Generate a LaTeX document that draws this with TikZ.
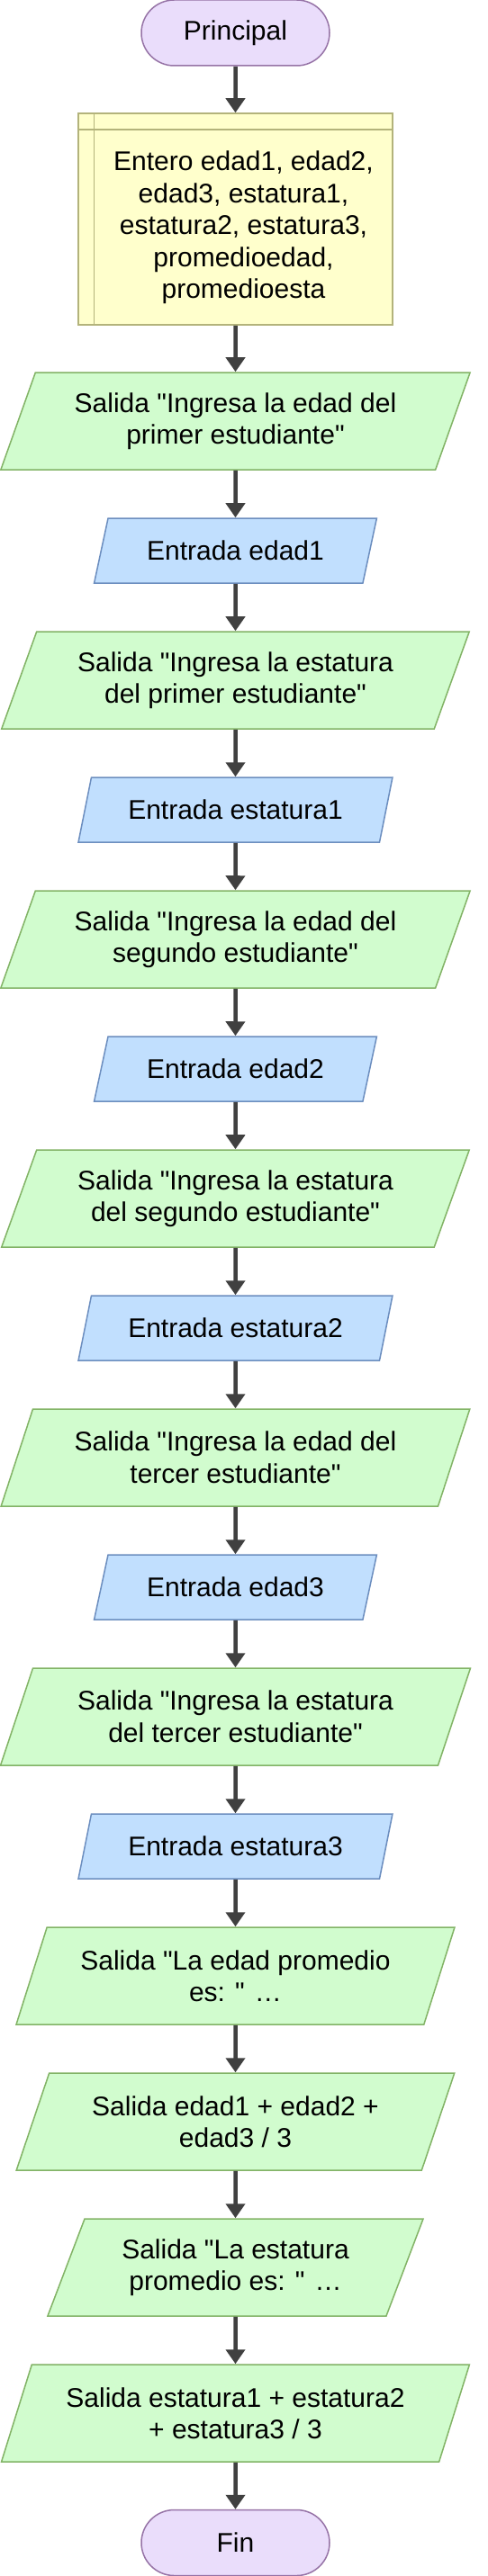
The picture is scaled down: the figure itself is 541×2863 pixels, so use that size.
\documentclass[tikz,border=0pt]{standalone}
\usepackage{fontspec}
\setmainfont{Liberation Sans}
\usetikzlibrary{arrows.meta, shapes.geometric, shapes.misc, calc}

% comilla recta, sin pasar por el mapeo tex-text
\newcommand{\comillas}{\XeTeXglyph\XeTeXcharglyph"22\relax}

\definecolor{terminalFondo}{HTML}{EADDFB}
\definecolor{terminalBorde}{HTML}{9673A6}
\definecolor{declFondo}{HTML}{FFFFCC}
\definecolor{declBorde}{HTML}{B3B37B}
\definecolor{salidaFondo}{HTML}{D1FCCE}
\definecolor{salidaBorde}{HTML}{82B366}
\definecolor{entradaFondo}{HTML}{C1DFFE}
\definecolor{entradaBorde}{HTML}{6C8EBF}
\definecolor{flechaGris}{HTML}{404040}

\tikzset{
    my-base/.style={
        font=\fontsize{30}{35.5}\selectfont, align=center, line width=1.5pt, inner sep=0pt
    },
    my-terminal/.style={
        my-base, rounded rectangle, draw=terminalBorde, fill=terminalFondo,
        minimum width=209pt, minimum height=73pt
    },
    my-decl/.style={
        my-base, rectangle, draw=declBorde, fill=declFondo,
        minimum width=349pt, minimum height=235pt
    },
    my-decl-text/.style={my-base},
    my-decl-line/.style={draw=declBorde, line width=1.5pt},
    my-io/.style={
        my-base, trapezium, trapezium left angle=64, trapezium right angle=116,
        trapezium stretches=true
    },
    my-salida/.style={
        my-io, draw=salidaBorde, fill=salidaFondo, minimum height=108pt, minimum width=#1
    },
    my-salida/.default=522pt,
    my-entrada/.style={
        my-io, draw=entradaBorde, fill=entradaFondo, minimum height=72pt, minimum width=#1
    },
    my-entrada/.default=314pt,
    my-arrow/.style={
        draw=flechaGris, line width=4.5pt, -{Triangle[length=16pt, width=21pt]}
    },
}

\begin{document}
\begin{tikzpicture}[x=1pt, y=-1pt]
        \useasboundingbox (0,0) rectangle (541,2863);

        % INICIO Y DECLARACION
        \node[my-terminal]  (INICIO)  at (261.5,36.5)  {Principal};
        \node[my-decl]      (DECL)    at (261.5,243.5) {};
        \node[my-decl-text] (DECLTXT) at (270.5,253)   {Entero edad1, edad2,\\ edad3, estatura1,\\ estatura2, estatura3,\\ promedioedad,\\ promedioesta};
        \coordinate[]       (DECLV1)  at ($(DECL.north west) + (18,0)$);
        \coordinate[]       (DECLV2)  at ($(DECL.south west) + (18,0)$);
        \coordinate[]       (DECLH1)  at ($(DECL.north west) + (0,19)$);
        \coordinate[]       (DECLH2)  at ($(DECL.north east) + (0,19)$);
        \draw[my-decl-line] (DECLV1) -- (DECLV2);
        \draw[my-decl-line] (DECLH1) -- (DECLH2);

        % PRIMER ESTUDIANTE
        \node[my-salida]         (SAL1) at (261.5,468)  {Salida \comillas Ingresa la edad del\\ primer estudiante\comillas};
        \node[my-entrada]        (ENT1) at (261.5,612)  {Entrada edad1};
        \node[my-salida]         (SAL2) at (261.5,756)  {Salida \comillas Ingresa la estatura\\ del primer estudiante\comillas};
        \node[my-entrada=349pt]  (ENT2) at (261.5,900)  {Entrada estatura1};

        % SEGUNDO ESTUDIANTE
        \node[my-salida]         (SAL3) at (261.5,1044) {Salida \comillas Ingresa la edad del\\ segundo estudiante\comillas};
        \node[my-entrada]        (ENT3) at (261.5,1188) {Entrada edad2};
        \node[my-salida]         (SAL4) at (261.5,1332) {Salida \comillas Ingresa la estatura\\ del segundo estudiante\comillas};
        \node[my-entrada=349pt]  (ENT4) at (261.5,1476) {Entrada estatura2};

        % TERCER ESTUDIANTE
        \node[my-salida]         (SAL5) at (261.5,1620) {Salida \comillas Ingresa la edad del\\ tercer estudiante\comillas};
        \node[my-entrada]        (ENT5) at (261.5,1764) {Entrada edad3};
        \node[my-salida]         (SAL6) at (261.5,1908) {Salida \comillas Ingresa la estatura\\ del tercer estudiante\comillas};
        \node[my-entrada=349pt]  (ENT6) at (261.5,2052) {Entrada estatura3};

        % PROMEDIOS
        \node[my-salida=489pt]   (SAL7)  at (261.5,2196) {Salida \comillas La edad promedio\\ es: \comillas{} …};
        \node[my-salida=489pt]   (SAL8)  at (261.5,2358) {Salida edad1 + edad2 +\\ edad3 / 3};
        \node[my-salida=418pt]   (SAL9)  at (261.5,2520) {Salida \comillas La estatura\\ promedio es: \comillas{} …};
        \node[my-salida]         (SAL10) at (261.5,2682) {Salida estatura1 + estatura2\\ + estatura3 / 3};
        \node[my-terminal]       (FIN)   at (261.5,2826) {Fin};

        % FLECHAS
        \draw[my-arrow] (INICIO) -- (DECL);
        \draw[my-arrow] (DECL)   -- (SAL1);
        \draw[my-arrow] (SAL1)   -- (ENT1);
        \draw[my-arrow] (ENT1)   -- (SAL2);
        \draw[my-arrow] (SAL2)   -- (ENT2);
        \draw[my-arrow] (ENT2)   -- (SAL3);
        \draw[my-arrow] (SAL3)   -- (ENT3);
        \draw[my-arrow] (ENT3)   -- (SAL4);
        \draw[my-arrow] (SAL4)   -- (ENT4);
        \draw[my-arrow] (ENT4)   -- (SAL5);
        \draw[my-arrow] (SAL5)   -- (ENT5);
        \draw[my-arrow] (ENT5)   -- (SAL6);
        \draw[my-arrow] (SAL6)   -- (ENT6);
        \draw[my-arrow] (ENT6)   -- (SAL7);
        \draw[my-arrow] (SAL7)   -- (SAL8);
        \draw[my-arrow] (SAL8)   -- (SAL9);
        \draw[my-arrow] (SAL9)   -- (SAL10);
        \draw[my-arrow] (SAL10)  -- (FIN);

    \end{tikzpicture}
\end{document}
